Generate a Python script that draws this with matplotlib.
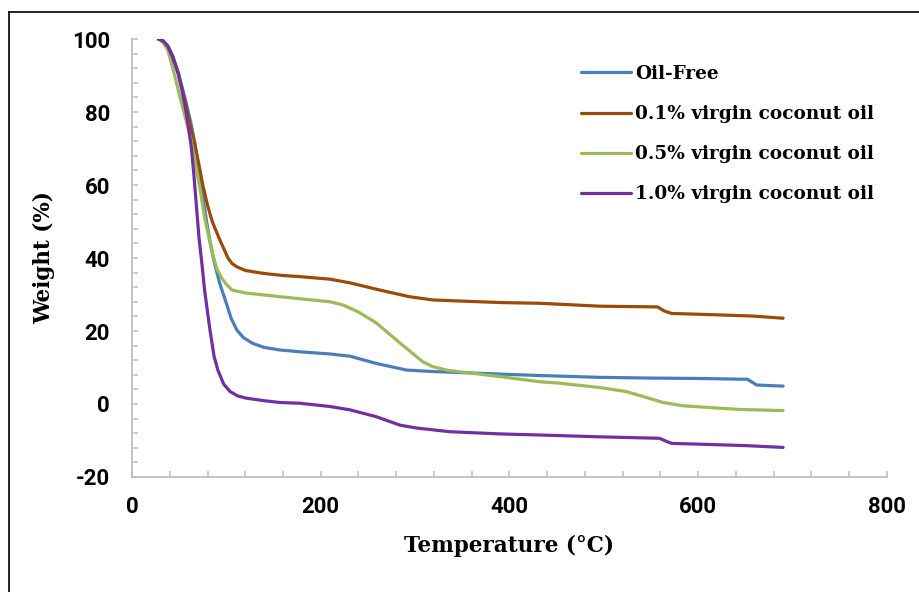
import matplotlib.pyplot as plt
import matplotlib.ticker as ticker
from matplotlib.lines import Line2D

plt.rcParams["axes.unicode_minus"] = False

# -- Data ------------------------------------------------------------------
temp_oil_free = [28, 33, 38, 43, 49, 56, 62, 67, 71, 75, 79, 83, 87, 93, 100,
                 105, 111, 118, 128, 140, 157, 178, 210, 231, 259, 291, 319,
                 390, 432, 496, 550, 600, 644, 652, 662, 690]
wt_oil_free = [100, 99.5, 98, 95.5, 90.7, 84, 77.5, 71, 64, 57, 50, 44, 39,
               33, 27.6, 23.5, 20.3, 18.2, 16.6, 15.5, 14.8, 14.3, 13.7, 13.1,
               11.1, 9.3, 8.9, 8.2, 7.8, 7.3, 7.1, 7.0, 6.8, 6.8, 5.2, 4.9]

temp_01 = [28, 33, 38, 43, 49, 56, 62, 67, 71, 75, 80, 85, 93, 101.7, 106, 111,
           120, 139, 160, 178, 210, 231, 263, 294, 319, 390, 432, 496, 557,
           564, 572, 600, 658, 690]
wt_01 = [100, 99.5, 98, 95.3, 90.7, 83, 76, 70.5, 65.5, 60, 54.5, 50, 45, 40,
         38.5, 37.6, 36.6, 35.8, 35.2, 34.9, 34.2, 33.2, 31.2, 29.4, 28.5,
         27.8, 27.6, 26.8, 26.6, 25.5, 24.8, 24.6, 24.1, 23.5]

temp_05 = [28, 33, 38, 44.5, 50, 56, 62, 67, 72, 77, 82, 86, 90, 95, 100, 106,
           121, 157, 210, 224, 240, 259, 284, 308, 319, 335, 355, 390, 432,
           453, 496, 524, 545, 563, 584, 644, 690]
wt_05 = [100, 99, 97, 90.7, 85, 79, 73, 66, 59, 51, 45, 40.5, 37, 34.5, 32.8,
         31.2, 30.4, 29.4, 28, 27.1, 25.2, 22.2, 16.7, 11.6, 10.2, 9.2, 8.6,
         7.5, 6.1, 5.7, 4.5, 3.4, 1.8, 0.4, -0.5, -1.5, -1.8]

temp_10 = [28, 33, 38, 43, 48.7, 53, 57, 60, 63, 65.5, 68, 71, 74, 77, 82.6,
           87, 91, 97, 104, 112, 121, 140, 157, 178, 210, 231, 259, 284, 302,
           337, 390, 432, 496, 559, 566, 572, 600, 650, 690]
wt_10 = [100, 99.5, 98, 95, 90.7, 86, 80.5, 75.5, 70, 63, 55, 45.5, 38.6, 31,
         20.3, 13, 9.3, 5.5, 3.4, 2.2, 1.6, 0.9, 0.4, 0.2, -0.7, -1.6, -3.5,
         -5.8, -6.6, -7.6, -8.2, -8.5, -9.0, -9.4, -10.2, -10.8, -11.0, -11.4,
         -11.9]

series_labels = ["Oil-Free", "0.1% virgin coconut oil",
                 "0.5% virgin coconut oil", "1.0% virgin coconut oil"]
series_colors = ["#4A7EBB", "#9A4A09", "#9BBB59", "#7030A0"]

# -- Figure ----------------------------------------------------------------
fig = plt.figure(figsize=(9.2, 5.92), dpi=100)
ax = fig.add_axes([0.1435, 0.1943, 0.8205, 0.7397])

curves = [(temp_oil_free, wt_oil_free), (temp_01, wt_01),
          (temp_05, wt_05), (temp_10, wt_10)]
for (t, w), lab, col in zip(curves, series_labels, series_colors):
    ax.plot(t, w, color=col, linewidth=2.3, label=lab,
            solid_capstyle="round", solid_joinstyle="round")

ax.set_xlim(0, 800)
ax.set_ylim(-20, 100)
ax.xaxis.set_major_locator(ticker.MultipleLocator(200))
ax.xaxis.set_minor_locator(ticker.MultipleLocator(40))
ax.yaxis.set_major_locator(ticker.MultipleLocator(20))
ax.yaxis.set_minor_locator(ticker.MultipleLocator(4))

for side in ("top", "right"):
    ax.spines[side].set_visible(False)
for side in ("left", "bottom"):
    ax.spines[side].set_color("#BFBFBF")
    ax.spines[side].set_linewidth(1.3)

ax.tick_params(which="both", direction="in", length=4.3, width=1.1,
               color="#BFBFBF")
ax.tick_params(axis="x", which="major", pad=14)
ax.tick_params(axis="y", which="major", pad=16)
for lbl in ax.get_xticklabels() + ax.get_yticklabels():
    lbl.set_fontfamily("Roboto")
    lbl.set_fontweight("bold")
    lbl.set_fontsize(16)

ax.set_xlabel("Temperature (°C)", fontfamily="DejaVu Serif",
              fontweight="bold", fontsize=15.5, labelpad=12)
ax.set_ylabel("Weight (%)", fontfamily="DejaVu Serif",
              fontweight="bold", fontsize=15.5, labelpad=12)

ax.legend(loc="upper left", bbox_to_anchor=(0.585, 0.958), frameon=False,
          prop={"family": "DejaVu Serif", "weight": "bold", "size": 13.3},
          handlelength=2.7, handletextpad=0.25, labelspacing=1.2,
          borderaxespad=0)

# chart-area frame (left and top edges visible in the crop)
fig.add_artist(Line2D([9 / 920, 9 / 920], [1 - 12 / 592, 0], color="black",
                      linewidth=1.2, transform=fig.transFigure))
fig.add_artist(Line2D([9 / 920, 1], [1 - 12 / 592, 1 - 12 / 592],
                      color="black", linewidth=1.2, transform=fig.transFigure))

fig.savefig("out.png", dpi=100)
